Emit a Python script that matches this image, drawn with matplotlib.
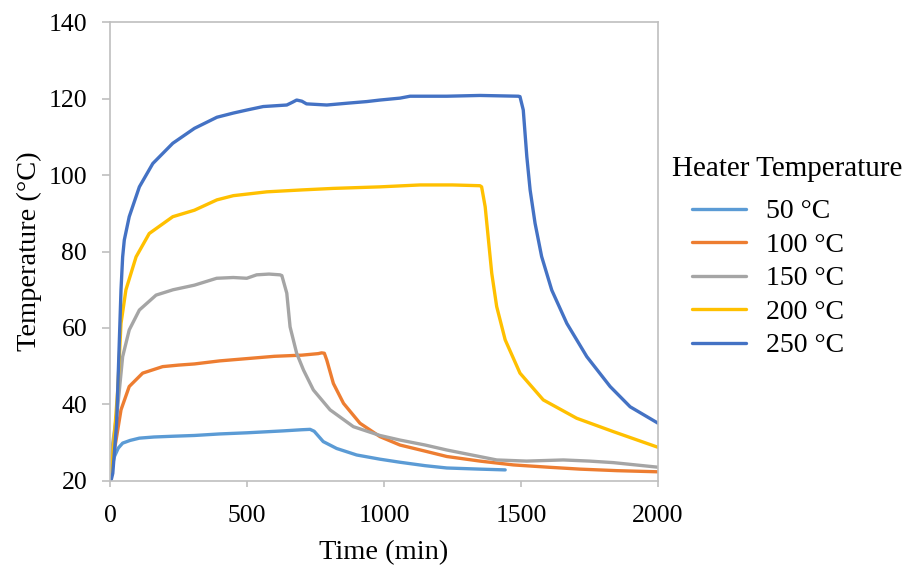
"""Heater temperature test: measured temperature over time."""

import matplotlib.pyplot as plt

plt.rcParams["font.family"] = ["Liberation Serif", "DejaVu Serif"]

# 50 °C heater
t_50 = [0, 6, 16, 30, 46, 73, 107, 160, 230, 308, 400, 500, 632, 700, 730, 745, 778,
        827, 900, 985, 1058, 1150, 1229, 1350, 1442]
T_50 = [20, 23.5, 26.4, 28.6, 29.9, 30.6, 31.2, 31.5, 31.7, 31.9, 32.3, 32.6, 33.1,
        33.4, 33.5, 33.0, 30.3, 28.5, 26.8, 25.7, 24.9, 24.0, 23.4, 23.1, 22.9]

# 100 °C heater
t_100 = [0, 8, 22, 40, 70, 119, 192, 250, 308, 400, 500, 600, 700, 760, 772, 782, 791,
         815, 852, 912, 985, 1058, 1150, 1229, 1350, 1472, 1600, 1715, 1850, 2000]
T_100 = [20, 25.0, 30.7, 38.6, 44.7, 48.2, 49.9, 50.3, 50.6, 51.4, 52.0, 52.6, 52.9,
         53.3, 53.5, 53.4, 51.6, 45.5, 40.3, 35.1, 31.6, 29.4, 27.8, 26.4, 25.2, 24.2,
         23.6, 23.1, 22.7, 22.4]

# 150 °C heater
t_150 = [0, 10, 28, 46, 70, 107, 168, 230, 308, 389, 450, 499, 535, 580, 620, 627, 645,
         657, 681, 706, 742, 803, 888, 985, 1058, 1150, 1229, 1320, 1411, 1520, 1654,
         1750, 1837, 2000]
T_150 = [20, 30.0, 39.4, 52.5, 59.5, 64.7, 68.6, 70.0, 71.2, 73.0, 73.2, 73.0, 73.9,
         74.1, 73.9, 73.7, 69.1, 60.3, 53.4, 49.0, 43.8, 38.6, 34.2, 31.9, 30.7, 29.4,
         28.1, 26.8, 25.5, 25.2, 25.5, 25.2, 24.8, 23.6]

# 200 °C heater
t_200 = [0, 8, 18, 28, 40, 58, 95, 143, 229, 308, 390, 450, 572, 700, 815, 985, 1131,
         1250, 1350, 1356, 1369, 1381, 1393, 1411, 1442, 1496, 1581, 1703, 1837, 2000]
T_200 = [20, 25.0, 34.0, 43.8, 61.2, 70.0, 78.6, 84.7, 89.1, 90.8, 93.5, 94.6, 95.6,
         96.1, 96.5, 96.9, 97.4, 97.4, 97.2, 96.9, 91.7, 83.0, 74.3, 65.6, 56.9, 48.2,
         41.2, 36.4, 32.9, 28.8]

# 250 °C heater
t_250 = [0, 5, 10, 24, 32, 40, 46, 52, 70, 107, 156, 229, 308, 390, 450, 500, 559,
         645, 665, 681, 700, 717, 791, 870, 937, 985, 1058, 1095, 1229, 1350, 1490,
         1496, 1508, 1521, 1533, 1551, 1575, 1612, 1667, 1740, 1825, 1898, 2000]
T_250 = [20, 20.5, 22.0, 35.1, 52.5, 70.0, 78.6, 83.0, 89.1, 96.9, 103.0, 108.3,
         112.2, 115.1, 116.2, 117.0, 117.9, 118.3, 119.0, 119.6, 119.3, 118.6, 118.3,
         118.8, 119.2, 119.6, 120.1, 120.6, 120.6, 120.8, 120.6, 120.5, 117.0, 104.8,
         96.1, 87.4, 78.7, 69.9, 61.2, 52.5, 44.7, 39.4, 35.1]

labels = ["50 °C", "100 °C", "150 °C", "200 °C", "250 °C"]
colors = ["#5B9BD5", "#ED7D31", "#A5A5A5", "#FFC000", "#4472C4"]
series = [(t_50, T_50), (t_100, T_100), (t_150, T_150), (t_200, T_200), (t_250, T_250)]

fig = plt.figure(figsize=(9.14, 5.66), dpi=100)
ax = fig.add_axes([0.1204, 0.1502, 0.5996, 0.8109])

for (t, T), label, color in zip(series, labels, colors):
    ax.plot(t, T, color=color, lw=2.4, label=label, solid_capstyle="round",
            solid_joinstyle="round")

ax.set_xlim(0, 2000)
ax.set_ylim(20, 140)
ax.set_xticks(range(0, 2001, 500))
ax.set_yticks(range(20, 141, 20))
ax.set_xlabel("Time (min)", fontsize=20.5, labelpad=9.5)
ax.set_ylabel("Temperature (°C)", fontsize=20.5, labelpad=5)
ax.tick_params(labelsize=18.5, color="#BFBFBF", width=1.2)
ax.tick_params(axis="x", length=4, pad=13)
ax.tick_params(axis="y", length=6, pad=10.5)

for spine in ax.spines.values():
    spine.set_color("#BFBFBF")
    spine.set_linewidth(1.2)

# legend title is placed on its own so the entries can sit indented under it
fig.text(672 / 914, 1 - 169 / 566, "Heater Temperature", fontsize=21,
         ha="left", va="center")
ax.legend(
    loc="upper left",
    bbox_to_anchor=(692 / 914, 1 - 199 / 566),
    bbox_transform=fig.transFigure,
    frameon=False,
    fontsize=20,
    handlelength=1.95,
    handletextpad=0.72,
    labelspacing=0.29,
    borderpad=0,
    borderaxespad=0,
)

fig.savefig("out.png", dpi=100)
